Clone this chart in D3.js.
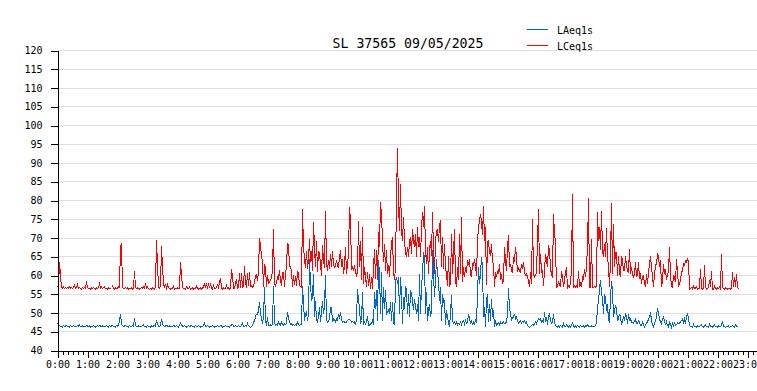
<!DOCTYPE html>
<html><head><meta charset="utf-8">
<script src="https://cdn.jsdelivr.net/npm/d3@7"></script>
<style>body{margin:0;background:#fff}svg{display:block}</style>
</head><body>
<svg id="chart" width="757" height="391"></svg>
<script>
const chartTitle = "SL 37565 09/05/2025";
const seriesNames = ["LAeq1s", "LCeq1s"];
const seriesColors = ["#0066cc", "#ff0000"];
const stepMinutes = 2;           // one reading every 2 minutes, starting 0:00
const yTicks = [40,45,50,55,60,65,70,75,80,85,90,95,100,105,110,115,120];
const hourLabels = ["0:00","1:00","2:00","3:00","4:00","5:00","6:00","7:00","8:00","9:00","10:00","11:00",
  "12:00","13:00","14:00","15:00","16:00","17:00","18:00","19:00","20:00","21:00","22:00","23:00"];

const lceq = [
57.2,56.8,63.6,59.9,56.7,56.6,56.9,56.5,56.7,56.6,
56.8,56.5,57.0,56.6,56.7,56.5,56.9,57.4,56.6,56.8,
57.6,56.5,56.7,56.6,56.4,56.8,56.5,56.7,56.6,58.4,
56.8,56.5,56.6,56.4,56.7,56.5,56.8,56.6,56.4,56.7,
56.5,56.8,57.7,56.6,56.9,56.5,56.7,57.0,56.5,56.6,
56.4,56.7,56.5,56.6,56.8,57.2,56.5,56.4,56.7,56.5,
56.6,57.0,56.8,67.8,68.3,56.9,56.5,56.6,56.8,56.5,
56.7,56.4,56.6,56.5,56.8,56.3,56.6,61.1,56.9,56.5,
56.7,56.5,56.4,56.6,56.8,56.5,57.0,56.6,57.9,56.7,
57.0,56.5,56.3,56.6,56.4,56.7,56.5,56.4,56.8,69.5,
62.9,57.0,56.6,56.8,67.8,62.3,58.0,56.7,57.7,56.6,
57.5,56.8,56.5,56.4,56.6,56.5,57.1,56.4,56.6,56.5,
56.7,56.5,56.6,63.5,60.2,56.8,56.5,56.6,56.4,57.0,
56.6,56.5,56.9,56.4,56.5,56.7,56.4,56.6,56.5,57.1,
56.6,56.4,56.5,56.7,56.4,56.6,56.9,58.1,56.6,57.9,
56.5,58.0,56.6,57.9,56.5,56.4,57.3,56.6,56.5,56.7,
57.8,56.5,58.2,59.3,56.6,56.4,56.7,56.5,56.6,57.4,
56.5,56.7,56.4,56.6,61.6,60.0,56.6,56.5,57.9,59.1,
56.6,56.8,60.6,56.7,60.7,56.6,57.2,62.4,58.0,56.8,
60.7,57.2,60.9,57.0,57.3,56.9,57.3,58.2,60.0,60.3,
58.5,61.0,70.0,68.0,65.0,64.0,56.9,63.0,62.2,56.9,
60.0,58.0,58.3,58.7,59.5,61.3,72.4,57.7,57.3,58.0,
59.5,59.0,61.5,58.5,57.3,60.9,60.9,56.9,60.4,62.6,
68.6,68.0,62.6,62.2,61.3,56.9,60.0,57.5,59.8,57.2,
61.3,60.4,57.3,57.0,56.9,77.8,67.5,64.4,62.0,66.6,
61.8,64.0,69.8,63.5,66.6,61.3,74.2,67.5,62.2,69.3,
60.9,66.6,65.7,63.1,60.0,68.0,64.0,62.0,77.3,63.1,
61.3,64.0,61.8,65.7,62.2,66.6,63.1,62.2,62.6,64.0,
62.6,62.2,64.9,66.7,62.2,64.4,60.4,62.7,67.7,60.4,
63.1,65.8,78.2,75.0,61.8,62.2,61.3,62.7,60.9,60.0,
61.0,74.5,62.2,69.3,58.7,72.9,57.8,62.2,59.6,56.9,
60.9,57.3,60.4,56.4,59.6,56.4,62.2,67.1,59.1,66.7,
58.7,71.6,67.6,79.7,76.0,69.3,63.6,68.4,61.3,66.7,
60.4,62.7,59.6,65.3,68.4,70.2,61.3,58.7,62.2,80.4,
94.0,78.7,72.0,84.4,72.0,69.3,75.6,69.3,66.2,64.9,
67.6,64.9,69.3,70.2,65.8,72.4,69.3,67.6,71.1,64.9,
72.9,67.6,70.2,64.9,72.4,76.9,72.9,78.4,66.7,63.1,
67.6,60.4,66.7,69.3,65.3,76.9,66.7,60.4,69.3,71.6,
72.4,68.9,73.3,74.7,62.2,70.2,61.8,68.4,62.2,60.4,
57.3,65.3,56.9,58.2,71.1,60.4,65.8,72.4,58.7,56.9,
62.2,58.7,71.1,60.4,75.7,58.2,62.2,59.6,62.2,60.8,
64.0,62.7,64.4,60.4,59.6,63.1,62.7,64.4,62.2,60.0,
69.3,72.9,74.7,76.4,74.2,70.7,78.5,69.3,72.9,57.5,
69.0,69.3,66.2,65.3,68.4,63.6,63.1,56.9,60.9,59.6,
61.3,60.4,63.1,58.7,60.4,57.8,58.7,67.6,64.0,61.3,
67.6,70.9,62.2,63.1,61.3,60.9,64.9,63.6,67.6,64.9,
60.9,62.2,61.3,60.9,63.1,61.8,63.6,60.9,60.0,60.4,
59.6,58.7,56.9,60.9,57.8,75.1,60.4,59.6,60.0,60.9,
68.9,77.8,60.4,65.8,60.9,61.3,57.3,61.3,65.8,64.0,
62.2,68.0,66.7,62.2,60.0,59.6,76.4,71.6,68.4,56.9,
57.3,58.2,57.8,56.9,61.3,59.6,56.9,58.7,60.9,62.2,
56.4,57.3,56.9,57.8,61.8,81.6,56.9,57.3,56.9,57.3,
56.9,61.3,56.9,57.8,56.9,59.6,59.1,61.8,59.6,62.2,
67.9,80.7,56.9,56.9,69.8,56.9,56.9,57.0,56.9,57.2,
76.9,69.3,72.9,66.7,77.3,66.7,64.9,68.4,64.9,72.7,
64.9,62.2,56.9,64.0,79.4,60.4,73.8,62.2,66.2,66.2,
60.0,65.3,60.9,59.6,65.3,64.0,61.3,61.3,65.3,62.7,
61.3,60.9,67.1,60.4,62.2,60.0,59.6,60.4,63.6,59.6,
60.4,63.6,59.1,60.6,57.8,59.6,60.0,57.8,57.3,60.4,
57.8,60.9,63.1,65.3,62.2,59.6,56.9,60.4,62.7,63.1,
65.8,65.3,62.2,64.0,56.9,58.7,63.1,60.4,61.8,58.7,
60.4,60.9,67.7,59.6,57.3,56.9,60.0,59.6,58.2,64.3,
60.9,57.3,57.8,58.7,60.9,61.3,63.1,62.7,64.0,63.6,
64.4,64.0,56.4,56.5,56.8,56.4,57.2,56.5,56.6,56.9,
56.4,56.5,56.6,61.8,56.7,56.4,56.5,62.7,56.9,56.4,
56.6,56.8,58.7,56.9,61.1,56.4,56.3,57.2,56.5,56.4,
56.7,56.5,56.9,56.4,65.8,56.9,56.5,56.4,56.7,56.5,
56.4,56.6,56.5,56.4,56.5,60.9,56.9,59.6,56.9,60.5,
56.9,56.4
];

const laeq = [
47.2,46.8,46.6,46.4,46.5,46.3,46.6,46.4,46.5,46.7,
46.4,46.5,46.3,46.6,46.5,46.4,46.7,46.3,46.5,46.4,
46.6,46.5,46.8,46.4,46.5,46.6,46.3,46.5,46.4,46.7,
46.5,46.4,46.6,46.2,46.5,46.4,46.6,46.5,46.3,46.5,
46.6,46.4,46.7,46.5,46.4,46.6,46.3,46.5,46.4,46.6,
46.5,46.3,46.6,46.4,46.5,46.7,46.4,46.5,46.3,46.6,
46.5,46.8,48.0,49.6,47.2,46.6,46.4,46.5,46.7,46.4,
46.5,46.3,46.6,46.5,46.4,46.7,46.5,48.6,46.8,46.4,
46.5,46.6,46.3,46.5,46.4,46.6,46.8,46.4,46.5,46.3,
46.6,46.4,46.5,46.2,46.6,46.4,46.5,46.7,46.4,48.1,
47.0,46.5,46.4,46.6,48.4,47.1,46.6,46.4,46.5,46.7,
46.5,46.4,46.6,46.3,46.5,46.4,46.7,46.5,46.4,46.6,
46.5,46.3,46.6,47.4,46.8,46.5,46.4,46.6,46.5,46.3,
46.5,46.6,46.4,46.5,46.7,46.4,46.5,46.3,46.6,46.5,
46.4,46.6,46.5,46.3,46.5,46.4,46.6,47.3,46.5,46.4,
46.6,46.5,46.3,46.5,46.4,46.6,46.5,46.2,46.5,46.4,
46.6,46.5,46.4,46.7,46.5,46.3,46.5,46.4,46.6,46.5,
46.4,46.5,46.3,46.6,46.8,47.0,46.5,46.4,46.6,46.5,
46.4,46.6,46.5,46.4,46.7,47.3,46.5,46.4,46.6,46.5,
47.2,46.6,46.5,46.2,46.4,46.6,47.4,48.0,49.0,49.7,
49.7,50.5,52.9,49.7,48.9,47.1,48.9,56.9,48.0,46.6,
48.9,46.6,46.6,46.8,46.6,46.9,57.3,47.6,46.7,46.9,
46.8,47.6,46.9,46.8,47.6,46.9,46.7,47.2,46.9,47.4,
50.2,48.9,47.6,46.9,47.1,46.8,46.9,46.7,47.0,46.8,
47.6,46.9,46.7,46.9,47.0,57.3,52.4,48.0,49.7,50.2,
48.0,49.7,64.4,57.8,53.3,54.2,60.4,48.9,53.3,48.0,
47.6,48.9,51.5,47.6,50.2,53.3,49.7,52.0,60.0,48.0,
47.6,47.8,48.4,51.5,51.5,47.6,48.4,48.2,47.6,48.4,
48.0,49.7,48.4,50.2,48.0,47.6,47.8,47.6,47.4,47.6,
48.0,48.3,48.2,48.0,47.6,47.8,47.5,47.6,46.7,48.4,
56.3,53.3,51.6,47.1,48.0,55.6,47.1,47.6,47.1,47.6,
49.3,46.7,46.7,47.1,47.3,48.0,46.7,55.6,51.1,56.0,
48.0,64.0,60.4,49.8,60.9,48.0,56.9,51.1,56.0,49.8,
50.2,50.7,49.8,52.9,48.0,52.9,47.6,46.7,58.2,59.7,
57.8,59.6,49.8,59.6,55.1,47.1,54.2,51.1,57.3,56.0,
49.8,55.1,48.9,56.0,55.1,53.3,50.7,53.8,51.6,49.8,
52.4,48.0,60.4,49.8,56.9,60.4,66.2,64.9,49.8,55.6,
48.0,50.5,52.4,48.9,50.7,66.7,60.4,54.2,58.7,64.4,
60.4,58.7,53.3,56.9,48.0,55.1,52.9,53.3,46.7,50.7,
48.9,47.6,46.2,49.8,54.9,48.0,47.3,47.6,47.1,47.6,
46.8,47.3,47.1,47.6,46.9,47.6,48.0,47.1,48.0,47.3,
47.6,49.6,48.9,47.1,48.0,46.7,47.6,47.1,48.0,47.3,
55.1,62.2,57.8,60.4,64.9,62.2,48.9,51.6,46.2,53.3,
55.1,47.6,52.4,48.0,53.8,48.9,50.7,46.2,48.0,46.7,
47.1,47.3,46.8,47.6,47.1,47.3,47.6,47.1,47.3,47.6,
49.8,56.7,51.1,49.8,48.0,48.9,48.9,49.8,48.4,48.9,
48.0,47.3,47.6,48.0,47.3,47.8,47.6,48.0,47.3,47.6,
46.7,46.4,46.2,46.4,46.7,46.9,46.7,47.1,47.6,47.1,
48.0,48.4,48.2,48.4,47.6,48.0,47.3,50.2,47.6,48.9,
46.7,49.3,49.8,48.0,47.3,47.6,49.8,47.3,46.7,46.4,
46.2,46.5,46.3,46.6,46.4,46.2,47.1,46.4,46.3,46.9,
46.4,46.2,46.5,46.3,46.6,47.6,46.4,46.2,46.5,46.3,
46.6,46.4,46.2,46.7,46.4,46.3,46.5,46.2,46.6,46.4,
46.9,46.5,46.3,46.4,46.6,46.3,46.5,46.4,46.7,47.3,
51.6,53.0,56.4,58.9,55.1,54.2,49.8,55.1,54.2,50.5,
52.4,48.0,47.6,54.2,58.5,56.0,48.9,50.7,52.0,51.1,
48.0,48.4,49.8,48.9,47.1,47.6,49.3,48.0,49.8,49.3,
47.1,49.8,48.0,48.4,47.6,47.6,47.3,48.0,48.4,47.1,
47.3,48.0,47.6,46.7,46.7,47.6,47.1,46.2,46.7,47.6,
47.6,48.4,48.9,50.2,48.0,46.7,46.2,47.3,48.0,48.9,
51.4,49.8,48.4,47.6,47.1,48.4,48.9,48.0,46.7,47.6,
46.7,46.2,47.6,47.1,46.2,47.3,46.7,47.3,46.7,46.9,
47.3,47.1,47.3,47.6,48.0,48.4,47.6,48.4,47.1,49.3,
49.8,48.4,46.7,46.3,46.4,46.2,46.9,46.3,46.4,46.2,
46.5,46.3,46.4,46.6,46.9,46.3,46.2,46.5,46.9,46.3,
46.4,46.2,47.0,46.4,46.3,46.2,46.5,46.9,46.3,46.4,
46.2,46.5,46.3,46.4,46.6,47.8,46.5,46.3,46.2,46.4,
46.3,46.5,46.2,46.4,46.3,46.6,46.4,46.2,46.9,46.4,
46.3,46.2
];

const FONT = "'DejaVu Sans Mono', monospace";
const svg = d3.select("#chart");
const x = d3.scaleLinear().domain([0, 1400]).range([57.5, 757.5]);
const y = d3.scaleLinear().domain([40, 120]).range([350.5, 50.5]);

// grid
svg.append("g").selectAll("line").data(yTicks.filter(v => v > 40)).join("line")
  .attr("x1", 57.5).attr("x2", 757).attr("y1", d => y(d)).attr("y2", d => y(d))
  .attr("stroke", "#dedede").attr("stroke-width", 1).attr("shape-rendering", "crispEdges");

// series
const line = d3.line().x((d, i) => x(i * stepMinutes)).y(d => y(d));
const plot = svg.append("g");
plot.append("path").datum(lceq).attr("d", line).attr("fill", "none")
  .attr("stroke", seriesColors[1]).attr("stroke-width", 1).attr("shape-rendering", "crispEdges");
plot.append("path").datum(laeq).attr("d", line).attr("fill", "none")
  .attr("stroke", seriesColors[0]).attr("stroke-width", 1).attr("shape-rendering", "crispEdges");

// y axis
const yAxis = svg.append("g").attr("transform", "translate(57.5,0)")
  .call(d3.axisLeft(y).tickValues(yTicks).tickSize(7).tickSizeOuter(0).tickPadding(8));
yAxis.selectAll("text").attr("font-family", FONT).attr("font-size", 10).attr("fill", "#000");

// x axis minor ticks (every 10 min)
const minor = d3.range(0, 1401, 10);
svg.append("g").attr("transform", "translate(0,350.5)")
  .call(d3.axisBottom(x).tickValues(minor).tickSize(4).tickSizeOuter(0).tickFormat(""))
  .call(g => g.select(".domain").remove());
// major ticks
const hourVals = hourLabels.map((_, i) => i * 60);
const xAxis = svg.append("g").attr("transform", "translate(0,350.5)")
  .call(d3.axisBottom(x).tickValues(hourVals).tickSize(7).tickSizeOuter(0).tickPadding(3)
    .tickFormat((d, i) => hourLabels[i]));
xAxis.selectAll("text").attr("font-family", FONT).attr("font-size", 10).attr("fill", "#000");
svg.selectAll(".domain, .tick line").attr("stroke", "#000").attr("shape-rendering", "crispEdges");

// title
svg.append("text").attr("x", 408).attr("y", 47.5).attr("text-anchor", "middle")
  .attr("font-family", FONT).attr("font-size", 13.2).attr("fill", "#000").text(chartTitle);

// legend
const legendY = [29.5, 45.5];
const lg = svg.append("g");
seriesNames.forEach((name, i) => {
  lg.append("line").attr("x1", 527).attr("x2", 548).attr("y1", legendY[i]).attr("y2", legendY[i])
    .attr("stroke", seriesColors[i]).attr("stroke-width", 1).attr("shape-rendering", "crispEdges");
  lg.append("text").attr("x", 557).attr("y", legendY[i] + 4.5)
    .attr("font-family", FONT).attr("font-size", 10).attr("fill", "#000").text(name);
});
</script>
</body></html>
